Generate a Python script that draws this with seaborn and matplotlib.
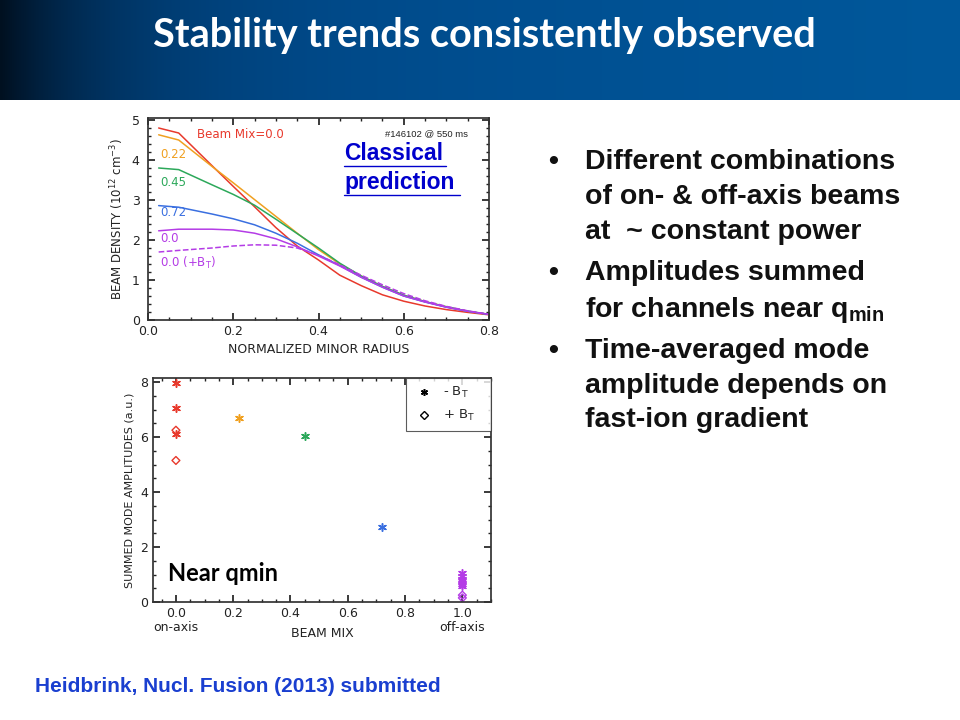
import numpy as np
import pandas as pd
import matplotlib
matplotlib.use("Agg")
import matplotlib.pyplot as plt
import seaborn as sns
from matplotlib.lines import Line2D
from matplotlib.ticker import MultipleLocator

sns.set_theme(style="ticks")
plt.rcParams['font.family'] = ['DejaVu Sans']
plt.rcParams['mathtext.fontset'] = 'custom'
plt.rcParams['mathtext.rm'] = 'DejaVu Sans'
plt.rcParams['mathtext.bf'] = 'Liberation Sans:bold'

# ---- top plot: classical beam density profiles ----
radius = [0.025, 0.072, 0.15, 0.2, 0.25, 0.3, 0.35, 0.4, 0.45, 0.5, 0.55, 0.6, 0.65, 0.7, 0.75, 0.8]
dens_000 = [4.8, 4.675, 3.86, 3.34, 2.83, 2.31, 1.85, 1.5, 1.12, 0.86, 0.63, 0.47, 0.35, 0.26, 0.19, 0.13]
dens_022 = [4.63, 4.5, 3.84, 3.43, 3.01, 2.59, 2.17, 1.76, 1.4, 1.1, 0.84, 0.62, 0.46, 0.33, 0.22, 0.14]
dens_045 = [3.8, 3.76, 3.38, 3.14, 2.87, 2.52, 2.16, 1.8, 1.42, 1.1, 0.84, 0.62, 0.46, 0.33, 0.22, 0.14]
dens_072 = [2.86, 2.82, 2.65, 2.53, 2.38, 2.17, 1.92, 1.63, 1.36, 1.07, 0.82, 0.6, 0.45, 0.32, 0.22, 0.14]
dens_100 = [2.23, 2.27, 2.27, 2.25, 2.17, 2.03, 1.83, 1.6, 1.35, 1.07, 0.82, 0.6, 0.45, 0.32, 0.22, 0.14]
dens_100_pos = [1.7, 1.74, 1.8, 1.85, 1.88, 1.87, 1.8, 1.62, 1.38, 1.12, 0.88, 0.66, 0.48, 0.34, 0.23, 0.14]

# ---- bottom plot: summed mode amplitudes ----
neg_mix = [0.0, 0.0, 0.0, 0.22, 0.45, 0.72, 1.0, 1.0, 1.0, 1.0, 1.0, 1.0]
neg_amp = [7.95, 7.05, 6.1, 6.7, 6.05, 2.72, 1.05, 0.95, 0.85, 0.75, 0.65, 0.6]
neg_col = ['red', 'red', 'red', 'orange', 'green', 'blue', 'purple', 'purple', 'purple', 'purple', 'purple', 'purple']
pos_mix = [0.0, 0.0, 1.0, 1.0]
pos_amp = [6.25, 5.15, 0.25, 0.15]
pos_col = ['red', 'red', 'purple', 'purple']

colors = {'red': '#e8392c', 'orange': '#f0a020', 'green': '#2ca85a',
          'blue': '#3a6fe0', 'purple': '#b43ce6'}

fig = plt.figure(figsize=(9.6, 7.2), dpi=100)
fig.patch.set_facecolor('white')

# Title banner with gradient
ban = fig.add_axes([0, 1 - 100 / 720, 1, 100 / 720])
xs = np.linspace(0, 1, 400)
ramp = 1 - np.exp(-xs / 0.12)
c0 = np.array([0, 16, 32]) / 255
c1 = np.array([0, 70, 135]) / 255
c2 = np.array([0, 88, 155]) / 255
grad = c0[None, :] + (c1 - c0)[None, :] * ramp[:, None] + (c2 - c1)[None, :] * xs[:, None]
ban.imshow(grad[None, :, :], aspect='auto', extent=[0, 1, 0, 1])
ban.set_axis_off()
fig.text(0.505, 1 - 36 / 720, "Stability trends consistently observed", color='white',
         fontsize=28.5, fontweight='bold', family='Lato', ha='center', va='center')

tick_kw = dict(direction='in', top=True, right=True, labelsize=9, colors='#222222')

# Top axes
ax1 = fig.add_axes([148 / 960, 1 - 320 / 720, 341 / 960, 202 / 720])
series = [(dens_000, 'red', '-'), (dens_022, 'orange', '-'), (dens_045, 'green', '-'),
          (dens_072, 'blue', '-'), (dens_100, 'purple', '-'), (dens_100_pos, 'purple', '--')]
for vals, c, ls in series:
    sns.lineplot(x=radius, y=vals, ax=ax1, color=colors[c], linestyle=ls, linewidth=1.1)
ax1.set_xlim(0, 0.8)
ax1.set_ylim(0, 5.05)
ax1.xaxis.set_major_locator(MultipleLocator(0.2))
ax1.xaxis.set_minor_locator(MultipleLocator(0.05))
ax1.yaxis.set_major_locator(MultipleLocator(1))
ax1.yaxis.set_minor_locator(MultipleLocator(0.2))
ax1.tick_params(which='both', **tick_kw)
ax1.tick_params(which='major', length=5)
ax1.tick_params(which='minor', length=2.5)
ax1.tick_params(axis='y', pad=6)
ax1.set_xlabel("NORMALIZED MINOR RADIUS", fontsize=9, color='#222222')
ax1.set_ylabel("BEAM DENSITY (10$^{12}$ cm$^{-3}$)", fontsize=8.5, color='#222222')
for s in ax1.spines.values():
    s.set_color('#333333')

lab_kw = dict(fontsize=8.5, transform=ax1.transData, va='center')
ax1.text(0.116, 4.65, "Beam Mix=0.0", color=colors['red'], **lab_kw)
ax1.text(0.028, 4.15, "0.22", color=colors['orange'], **lab_kw)
ax1.text(0.028, 3.43, "0.45", color=colors['green'], **lab_kw)
ax1.text(0.028, 2.68, "0.72", color=colors['blue'], **lab_kw)
ax1.text(0.028, 2.05, "0.0", color=colors['purple'], **lab_kw)
ax1.text(0.028, 1.43, "0.0 (+B$_\\mathrm{T}$)", color=colors['purple'], **lab_kw)
ax1.text(0.555, 4.65, "#146102 @ 550 ms", color='#222222', fontsize=6.8,
         family='Liberation Sans', transform=ax1.transData, va='center')
ax1.text(0.46, 4.175, "Classical", color='#0000cc', fontsize=16.5, fontweight='bold',
         family='Liberation Sans', transform=ax1.transData, va='center')
ax1.text(0.46, 3.45, "prediction", color='#0000cc', fontsize=16.5, fontweight='bold',
         family='Liberation Sans', transform=ax1.transData, va='center')
ax1.plot([0.46, 0.70], [3.85, 3.85], color='#0000cc', linewidth=1)
ax1.plot([0.46, 0.732], [3.125, 3.125], color='#0000cc', linewidth=1)

# Bottom axes
ax2 = fig.add_axes([153 / 960, 1 - 602 / 720, 338 / 960, 224 / 720])
for xm, ya, c in zip(neg_mix, neg_amp, neg_col):
    sns.scatterplot(x=[xm], y=[ya], ax=ax2, marker=(6, 2, 0), s=30,
                    color=colors[c], edgecolor=colors[c], linewidth=1.1)
for xm, ya, c in zip(pos_mix, pos_amp, pos_col):
    sns.scatterplot(x=[xm], y=[ya], ax=ax2, marker='D', s=16,
                    facecolor='none', edgecolor=colors[c], linewidth=1.0)
ax2.set_xlim(-0.08, 1.1)
ax2.set_ylim(0, 8.15)
ax2.xaxis.set_major_locator(MultipleLocator(0.2))
ax2.xaxis.set_minor_locator(MultipleLocator(0.05))
ax2.yaxis.set_major_locator(MultipleLocator(2))
ax2.yaxis.set_minor_locator(MultipleLocator(0.5))
ax2.tick_params(which='both', **tick_kw)
ax2.tick_params(which='major', length=5)
ax2.tick_params(which='minor', length=2.5)
ax2.set_xticks([0.0, 0.2, 0.4, 0.6, 0.8, 1.0])
ax2.set_xticklabels(["0.0\non-axis", "0.2", "0.4", "0.6", "0.8", "1.0\noff-axis"],
                    va='top', linespacing=1.1)
ax2.set_xlabel("BEAM MIX", fontsize=9, color='#222222', labelpad=-5)
ax2.set_ylabel("SUMMED MODE AMPLITUDES (a.u.)", fontsize=8, color='#222222')
for s in ax2.spines.values():
    s.set_color('#333333')
ax2.text(-0.028, 1.05, "Near qmin", fontsize=17, fontweight='bold', color='black',
         family='Lato', transform=ax2.transData, va='center')

handles = [Line2D([], [], marker=(6, 2, 0), color='black', linestyle='', markersize=5, markeredgewidth=1.1),
           Line2D([], [], marker='D', color='black', markerfacecolor='none', linestyle='', markersize=4)]
leg = ax2.legend(handles, ["- B$_\\mathrm{T}$   ", "+ B$_\\mathrm{T}$   "], loc='upper right',
                 fontsize=9.5, frameon=True, fancybox=False, borderaxespad=0, handletextpad=0.6,
                 handlelength=1.6, borderpad=0.55, labelspacing=0.6)
leg.get_frame().set_edgecolor('#333333')
leg.get_frame().set_linewidth(0.8)

# Bullets
bul_kw = dict(fontsize=20.5, fontweight='bold', family='Liberation Sans', color='#111111', va='center')
lines = [(162, "Different combinations", True), (197, "of on- & off-axis beams", False),
         (232, "at  ~ constant power", False), (273, "Amplitudes summed", True),
         (310, "for channels near q$_\\mathbf{min}$", False), (351, "Time-averaged mode", True),
         (386, "amplitude depends on", False), (420, "fast-ion gradient", False)]
for y, t, b in lines:
    if b:
        fig.text(548 / 960, 1 - y / 720, "•", **bul_kw)
    fig.text(585 / 960, 1 - y / 720, t, **bul_kw)

fig.text(35 / 960, 1 - 687 / 720, "Heidbrink, Nucl. Fusion (2013) submitted", color='#1a3fd0',
         fontsize=15, fontweight='bold', family='Liberation Sans', va='center')

fig.savefig("out.png", dpi=100)
